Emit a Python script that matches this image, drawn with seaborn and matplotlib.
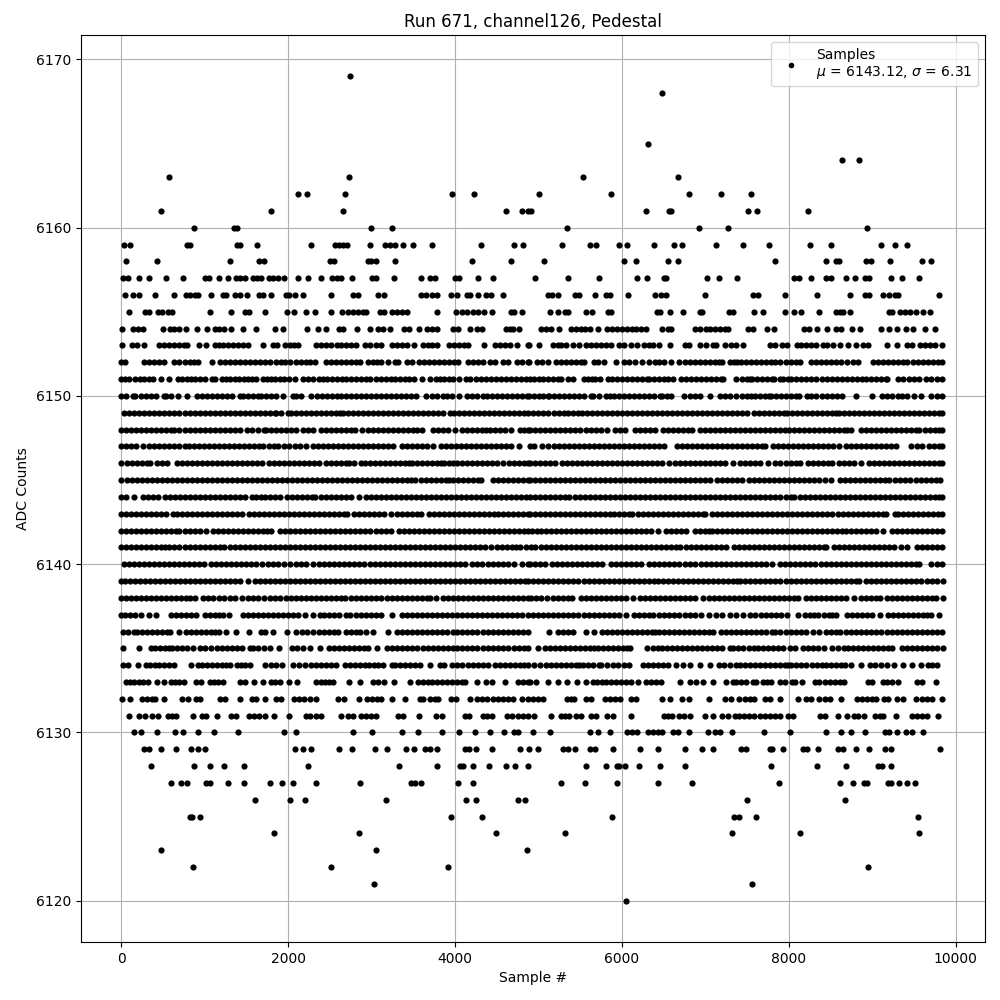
import matplotlib
matplotlib.use("Agg")
import matplotlib.pyplot as plt
from matplotlib.lines import Line2D
import pandas as pd
import seaborn as sns

# sample numbers, one list per ADC level
adc_6120 = [6048]
adc_6121 = [3032, 7560]
adc_6122 = [860, 2516, 3920, 8952]
adc_6123 = [476, 3056, 4868]
adc_6124 = [1832, 2852, 4496, 5320, 7320, 8136, 9564]
adc_6125 = [820, 850, 948, 3956, 4328, 5880, 7340, 7404, 7608, 9552]
adc_6126 = [1604, 2024, 2204, 3176, 4136, 4248, 4760, 4844, 7500, 8676]
adc_6127 = [596, 716, 788, 1020, 1064, 1280, 1472, 1784, 1928, 2060, 2336, 2864, 3476, 3524, 3596, 4040, 4220,
            5268, 5556, 5940, 6432, 6840, 7884, 8616, 8772, 8904, 8932, 9192, 9228, 9324, 9420, 9516]
adc_6128 = [356, 872, 1064, 1232, 1472, 2240, 3332, 3788, 4060, 4100, 4220, 4412, 4616, 4724, 4880, 5568, 5808,
            5940, 5964, 6040, 6204, 6456, 6756, 7788, 8340, 8688, 9072, 9120, 9228]
adc_6129 = [272, 332, 476, 656, 836, 920, 1004, 2084, 2176, 2276, 2612, 2768, 3044, 3188, 3416, 3512, 3644, 3700,
            3788, 4120, 4172, 4256, 4448, 4784, 4892, 4992, 5292, 5352, 5436, 5616, 5676, 5892, 6216, 6432, 6756,
            6960, 7092, 7428, 7484, 7770, 7800, 7932, 8164, 8212, 8352, 8592, 8652, 8808, 8964, 9156, 9228, 9816]
adc_6130 = [152, 236, 428, 644, 740, 920, 1112, 1400, 1952, 2096, 2780, 3008, 3368, 3560, 3848, 4052, 4244, 4420,
            4592, 4712, 4760, 4940, 5136, 5616, 5712, 5856, 6060, 6116, 6180, 6312, 6372, 6432, 6484, 6612, 6672,
            6804, 7032, 7116, 7180, 7320, 7704, 8016, 8448, 8628, 8748, 8916, 9156, 9204, 9292, 9408, 9480, 9612]
adc_6131 = [92, 212, 292, 368, 448, 560, 608, 660, 860, 964, 1020, 1148, 1320, 1380, 1532, 1588, 1652, 1724, 1832,
            2012, 2212, 2268, 2332, 2400, 2636, 2720, 2780, 2880, 2940, 3000, 3052, 3320, 3380, 3572, 3768, 3840,
            4120, 4172, 4340, 4388, 4448, 4628, 4680, 4760, 4820, 4880, 4952, 5156, 5268, 5324, 5372, 5452, 5512,
            5628, 5684, 5820, 5892, 6108, 6504, 6552, 6600, 6680, 6744, 6816, 6996, 7092, 7204, 7272, 7352, 7404,
            7460, 7524, 7580, 7652, 7712, 7772, 7832, 7892, 7992, 8052, 8372, 8432, 8592, 8700, 8780, 8832, 8900,
            9032, 9092, 9132, 9284, 9472, 9532, 9592, 9660, 9792]
adc_6132 = [8, 108, 248, 308, 368, 412, 512, 728, 800, 892, 948, 1180, 1240, 1420, 1572, 1620, 1728, 1860, 1920,
            2068, 2132, 2188, 2268, 2340, 2600, 2668, 2852, 2952, 3012, 3068, 3120, 3240, 3404, 3580, 3620, 3700,
            3760, 3800, 3948, 4012, 4180, 4260, 4320, 4380, 4460, 4520, 4580, 4640, 4692, 4800, 4872, 4932, 4992,
            5052, 5340, 5392, 5432, 5572, 5632, 5796, 5852, 5912, 5972, 6112, 6172, 6484, 6580, 6724, 6804, 7044,
            7232, 7312, 7404, 7472, 7532, 7580, 7712, 7772, 7900, 8104, 8204, 8260, 8364, 8432, 8492, 8628, 8812,
            8872, 8932, 8992, 9040, 9140, 9192, 9292, 9372, 9520, 9592, 9652, 9712, 9840]
adc_6133 = [60, 110, 160, 210, 260, 320, 428, 510, 600, 650, 700, 750, 900, 960, 1060, 1110, 1160, 1220, 1420, 1480,
            1592, 1700, 1800, 1840, 1904, 2012, 2108, 2330, 2390, 2440, 2490, 2540, 2732, 2868, 3020, 3080, 3150,
            3268, 3460, 3560, 3620, 3680, 3730, 3790, 3850, 3900, 3960, 4020, 4080, 4120, 4260, 4368, 4448, 4600,
            4760, 4820, 4880, 4900, 4970, 5112, 5232, 5340, 5460, 5564, 5650, 5700, 5760, 5810, 5870, 5930, 5990,
            6050, 6108, 6192, 6290, 6350, 6410, 6468, 6696, 6820, 6892, 6972, 7092, 7250, 7330, 7370, 7430, 7490,
            7570, 7612, 7692, 7740, 7792, 7892, 7952, 8032, 8072, 8160, 8312, 8360, 8432, 8490, 8550, 8610, 8660,
            8952, 8992, 9132, 9180, 9232, 9312, 9532, 9592, 9764]
adc_6134 = [20, 80, 208, 300, 350, 410, 460, 520, 580, 640, 840, 920, 970, 1030, 1090, 1150, 1210, 1260, 1300, 1388,
            1440, 1490, 1540, 1728, 1800, 1860, 1930, 2060, 2130, 2200, 2270, 2340, 2400, 2460, 2520, 2580, 2680,
            2740, 2800, 2860, 2920, 2970, 3030, 3080, 3140, 3240, 3280, 3340, 3400, 3460, 3520, 3580, 3700, 3820,
            3872, 3960, 4020, 4080, 4160, 4220, 4280, 4340, 4400, 4480, 4540, 4600, 4660, 4720, 4780, 4830, 4880,
            4950, 5020, 5090, 5150, 5210, 5270, 5330, 5390, 5450, 5490, 5530, 5590, 5650, 5720, 5750, 5820, 5890,
            5950, 6020, 6090, 6250, 6310, 6370, 6430, 6490, 6550, 6650, 6730, 6810, 6932, 7056, 7160, 7220, 7290,
            7370, 7410, 7470, 7530, 7590, 7650, 7710, 7770, 7830, 7890, 7950, 7990, 8030, 8090, 8150, 8210, 8280,
            8340, 8400, 8450, 8510, 8570, 8620, 8670, 8748, 8870, 8970, 9030, 9100, 9180, 9264, 9372, 9472, 9580,
            9670, 9720, 9770]
adc_6135 = [20, 212, 360, 410, 470, 530, 580, 612, 670, 730, 788, 860, 940, 1010, 1080, 1150, 1210, 1270, 1330, 1390,
            1450, 1540, 1580, 1640, 1710, 1780, 1892, 2050, 2110, 2180, 2260, 2384, 2490, 2550, 2610, 2670, 2730,
            2790, 2850, 2910, 2960, 3068, 3190, 3250, 3310, 3370, 3430, 3490, 3550, 3620, 3680, 3740, 3800, 3860,
            3920, 3980, 4020, 4080, 4140, 4200, 4270, 4340, 4400, 4460, 4520, 4580, 4640, 4710, 4770, 4830, 4880,
            4992, 5080, 5140, 5200, 5260, 5320, 5380, 5440, 5500, 5560, 5620, 5670, 5710, 5770, 5830, 5890, 5950,
            6010, 6060, 6100, 6300, 6370, 6430, 6480, 6540, 6600, 6660, 6720, 6780, 6840, 6900, 6960, 7020, 7080,
            7140, 7200, 7290, 7330, 7390, 7450, 7520, 7580, 7630, 7690, 7750, 7810, 7870, 7930, 8010, 8076, 8170,
            8230, 8290, 8350, 8420, 8520, 8590, 8660, 8710, 8770, 8830, 8890, 8950, 9010, 9070, 9130, 9190, 9240,
            9350, 9410, 9470, 9530, 9590, 9650, 9710, 9770, 9850]
adc_6136 = [20, 80, 150, 190, 250, 310, 370, 430, 490, 550, 590, 700, 780, 840, 900, 960, 1020, 1080, 1130, 1170,
            1252, 1372, 1528, 1680, 1720, 1820, 1990, 2100, 2170, 2230, 2300, 2370, 2430, 2490, 2550, 2600, 2700,
            2760, 2810, 2860, 2940, 3020, 3200, 3300, 3360, 3420, 3480, 3540, 3600, 3660, 3720, 3780, 3840, 3900,
            3980, 4020, 4080, 4140, 4200, 4270, 4340, 4400, 4460, 4520, 4580, 4640, 4700, 4760, 4820, 4880, 5130,
            5230, 5300, 5360, 5420, 5570, 5670, 5760, 5820, 5880, 5940, 6000, 6060, 6120, 6180, 6240, 6300, 6360,
            6400, 6440, 6500, 6560, 6620, 6680, 6740, 6800, 6860, 6920, 6980, 7040, 7090, 7190, 7250, 7310, 7370,
            7430, 7490, 7550, 7610, 7670, 7730, 7800, 7840, 7900, 7960, 8020, 8080, 8140, 8200, 8290, 8364, 8440,
            8500, 8560, 8610, 8680, 8740, 8800, 8860, 8920, 8980, 9040, 9100, 9170, 9240, 9300, 9360, 9420, 9480,
            9540, 9600, 9660, 9720, 9780, 9840]
adc_6137 = [0, 50, 110, 170, 240, 340, 420, 600, 660, 720, 780, 840, 900, 1000, 1060, 1120, 1170, 1220, 1290, 1460,
            1520, 1580, 1640, 1700, 1760, 1820, 1880, 1940, 2000, 2060, 2120, 2200, 2300, 2380, 2430, 2490, 2550,
            2610, 2700, 2744, 2820, 2880, 2940, 3000, 3060, 3120, 3240, 3360, 3420, 3480, 3540, 3600, 3660, 3720,
            3780, 3840, 3900, 3960, 4020, 4080, 4140, 4200, 4260, 4320, 4380, 4440, 4500, 4560, 4620, 4680, 4740,
            4800, 4880, 4940, 5000, 5060, 5120, 5180, 5240, 5300, 5360, 5420, 5480, 5540, 5600, 5660, 5720, 5780,
            5840, 5900, 5960, 6050, 6150, 6210, 6270, 6320, 6370, 6450, 6510, 6570, 6630, 6690, 6750, 6810, 6870,
            6950, 7040, 7130, 7200, 7300, 7370, 7450, 7530, 7600, 7670, 7730, 7790, 7850, 7910, 7980, 8112, 8190,
            8250, 8300, 8350, 8420, 8480, 8520, 8570, 8700, 8760, 8820, 8880, 8940, 9000, 9092, 9190, 9250, 9310,
            9370, 9430, 9490, 9550, 9610, 9660, 9700, 9800]
adc_6138 = [0, 60, 120, 180, 240, 300, 360, 420, 480, 540, 600, 660, 720, 780, 830, 880, 980, 1040, 1100, 1170, 1230,
            1300, 1370, 1450, 1520, 1580, 1640, 1710, 1780, 1850, 1910, 1970, 2030, 2090, 2150, 2210, 2270, 2330,
            2390, 2450, 2510, 2570, 2630, 2680, 2760, 2820, 2880, 2940, 3000, 3060, 3120, 3180, 3240, 3300, 3360,
            3420, 3480, 3540, 3600, 3660, 3700, 3770, 3860, 3920, 3980, 4040, 4100, 4160, 4220, 4280, 4340, 4400,
            4460, 4520, 4580, 4640, 4700, 4760, 4820, 4870, 4910, 4970, 5030, 5100, 5170, 5230, 5290, 5350, 5400,
            5510, 5570, 5630, 5690, 5750, 5810, 5870, 5930, 5990, 6050, 6130, 6220, 6280, 6340, 6400, 6460, 6520,
            6580, 6640, 6700, 6760, 6820, 6880, 6970, 7040, 7100, 7160, 7220, 7280, 7340, 7400, 7460, 7520, 7580,
            7640, 7700, 7760, 7820, 7880, 7940, 8000, 8060, 8110, 8210, 8270, 8330, 8390, 8450, 8510, 8570, 8630,
            8680, 8784, 8870, 8930, 8990, 9040, 9090, 9180, 9240, 9300, 9360, 9420, 9480, 9540, 9600, 9660, 9710,
            9760, 9844]
adc_6139 = [0, 50, 110, 170, 230, 290, 350, 410, 470, 530, 590, 650, 710, 770, 830, 890, 950, 1010, 1070, 1130, 1190,
            1250, 1310, 1370, 1430, 1520, 1600, 1660, 1720, 1780, 1840, 1900, 1960, 2020, 2080, 2140, 2200, 2260,
            2320, 2380, 2440, 2500, 2560, 2620, 2680, 2740, 2800, 2860, 2920, 2980, 3040, 3100, 3160, 3220, 3280,
            3340, 3400, 3460, 3520, 3580, 3640, 3700, 3760, 3820, 3880, 3940, 4000, 4060, 4120, 4180, 4240, 4300,
            4360, 4420, 4480, 4540, 4600, 4660, 4720, 4780, 4840, 4880, 4940, 5000, 5060, 5120, 5180, 5240, 5300,
            5360, 5420, 5480, 5540, 5600, 5660, 5720, 5780, 5840, 5900, 5960, 6020, 6080, 6140, 6200, 6260, 6320,
            6380, 6430, 6490, 6550, 6610, 6670, 6730, 6790, 6850, 6910, 6970, 7030, 7090, 7150, 7210, 7270, 7330,
            7380, 7420, 7480, 7540, 7600, 7660, 7720, 7780, 7840, 7900, 7960, 8020, 8080, 8140, 8200, 8260, 8320,
            8380, 8440, 8500, 8560, 8620, 8680, 8740, 8800, 8840, 8920, 8980, 9040, 9100, 9160, 9220, 9280, 9340,
            9400, 9460, 9520, 9580, 9650, 9720, 9780, 9850]
adc_6140 = [30, 90, 150, 210, 270, 330, 390, 450, 510, 570, 630, 690, 750, 810, 870, 930, 990, 1080, 1140, 1200, 1260,
            1320, 1380, 1440, 1500, 1560, 1620, 1690, 1760, 1820, 1880, 1950, 2020, 2090, 2150, 2220, 2300, 2370,
            2430, 2490, 2550, 2610, 2670, 2730, 2790, 2850, 2910, 2980, 3040, 3100, 3160, 3220, 3280, 3340, 3400,
            3460, 3520, 3580, 3640, 3700, 3760, 3820, 3880, 3940, 4000, 4060, 4120, 4200, 4270, 4330, 4390, 4450,
            4510, 4570, 4630, 4710, 4800, 4880, 4900, 4960, 5020, 5080, 5160, 5220, 5280, 5340, 5400, 5460, 5520,
            5580, 5640, 5700, 5760, 5870, 5930, 5990, 6050, 6110, 6170, 6230, 6320, 6390, 6450, 6510, 6570, 6630,
            6690, 6750, 6810, 6870, 6950, 7010, 7070, 7130, 7190, 7250, 7310, 7370, 7430, 7490, 7550, 7610, 7670,
            7730, 7800, 7890, 7950, 8010, 8070, 8130, 8190, 8250, 8310, 8380, 8440, 8500, 8560, 8620, 8680, 8740,
            8800, 8860, 8920, 8980, 9040, 9100, 9160, 9220, 9280, 9340, 9400, 9460, 9520, 9560, 9700, 9770, 9830]
adc_6141 = [0, 60, 120, 180, 240, 300, 360, 420, 480, 530, 580, 640, 700, 760, 830, 890, 950, 1010, 1070, 1130, 1190,
            1230, 1300, 1360, 1420, 1480, 1540, 1600, 1660, 1720, 1780, 1840, 1900, 1960, 2020, 2080, 2140, 2200,
            2260, 2320, 2380, 2440, 2500, 2560, 2620, 2680, 2740, 2800, 2860, 2920, 2980, 3040, 3100, 3160, 3220,
            3280, 3340, 3400, 3460, 3520, 3580, 3640, 3700, 3760, 3820, 3880, 3940, 4000, 4060, 4120, 4180, 4240,
            4300, 4360, 4430, 4500, 4560, 4620, 4680, 4730, 4780, 4850, 4910, 4960, 5030, 5090, 5150, 5210, 5270,
            5330, 5390, 5450, 5510, 5570, 5630, 5690, 5750, 5810, 5870, 5930, 5990, 6050, 6110, 6170, 6230, 6290,
            6350, 6410, 6470, 6530, 6590, 6650, 6700, 6770, 6830, 6890, 6950, 7010, 7070, 7130, 7190, 7250, 7340,
            7400, 7460, 7520, 7580, 7640, 7700, 7760, 7820, 7880, 7940, 8000, 8060, 8120, 8180, 8240, 8300, 8360,
            8420, 8450, 8540, 8600, 8660, 8720, 8780, 8840, 8900, 8960, 9020, 9080, 9140, 9200, 9260, 9340, 9420,
            9530, 9590, 9650, 9710, 9770, 9840]
adc_6142 = [0, 60, 120, 180, 240, 300, 360, 420, 480, 540, 600, 660, 700, 760, 820, 880, 950, 1020, 1100, 1160, 1220,
            1280, 1340, 1400, 1460, 1520, 1580, 1640, 1700, 1750, 1800, 1900, 1960, 2020, 2080, 2140, 2200, 2260,
            2320, 2380, 2440, 2500, 2560, 2620, 2680, 2740, 2800, 2860, 2920, 2980, 3050, 3110, 3170, 3230, 3330,
            3390, 3450, 3510, 3570, 3630, 3690, 3750, 3810, 3870, 3930, 3990, 4050, 4110, 4170, 4230, 4290, 4350,
            4410, 4470, 4530, 4590, 4650, 4710, 4770, 4830, 4880, 4920, 4980, 5030, 5090, 5150, 5210, 5270, 5330,
            5390, 5450, 5510, 5570, 5630, 5690, 5750, 5810, 5870, 5930, 5990, 6050, 6110, 6170, 6230, 6290, 6350,
            6430, 6530, 6590, 6650, 6710, 6770, 6870, 6930, 6990, 7040, 7080, 7140, 7200, 7260, 7320, 7380, 7440,
            7500, 7560, 7620, 7680, 7740, 7800, 7860, 7920, 7980, 8040, 8100, 8160, 8220, 8280, 8340, 8400, 8460,
            8520, 8580, 8640, 8680, 8750, 8810, 8870, 8930, 8990, 9050, 9130, 9230, 9290, 9350, 9410, 9470, 9530,
            9590, 9650, 9710, 9770, 9840]
adc_6143 = [0, 60, 120, 180, 240, 300, 360, 420, 480, 540, 620, 670, 730, 790, 850, 910, 970, 1030, 1090, 1150, 1210,
            1270, 1330, 1390, 1450, 1530, 1590, 1650, 1710, 1770, 1830, 1890, 1950, 2010, 2070, 2130, 2190, 2250,
            2310, 2370, 2430, 2490, 2550, 2610, 2670, 2710, 2790, 2850, 2910, 2970, 3030, 3090, 3150, 3230, 3300,
            3360, 3420, 3480, 3540, 3590, 3690, 3750, 3810, 3870, 3930, 3990, 4050, 4110, 4170, 4230, 4290, 4350,
            4410, 4470, 4510, 4580, 4640, 4700, 4760, 4820, 4880, 4900, 4960, 5020, 5080, 5140, 5200, 5260, 5320,
            5380, 5440, 5500, 5560, 5620, 5680, 5740, 5800, 5860, 5900, 5970, 6030, 6090, 6120, 6190, 6250, 6310,
            6370, 6430, 6490, 6550, 6610, 6670, 6730, 6790, 6850, 6910, 6970, 7000, 7080, 7140, 7200, 7260, 7320,
            7380, 7440, 7500, 7560, 7620, 7680, 7740, 7800, 7860, 7920, 7980, 8040, 8100, 8160, 8220, 8280, 8340,
            8400, 8460, 8520, 8590, 8650, 8710, 8770, 8830, 8890, 8950, 9010, 9070, 9130, 9160, 9270, 9310, 9370,
            9430, 9490, 9550, 9610, 9670, 9730, 9790, 9840]
adc_6144 = [0, 60, 150, 260, 320, 380, 440, 530, 590, 650, 710, 770, 830, 890, 950, 1010, 1070, 1130, 1190, 1250,
            1310, 1370, 1430, 1490, 1570, 1620, 1680, 1730, 1790, 1850, 1900, 1990, 2050, 2110, 2170, 2230, 2290,
            2320, 2400, 2460, 2520, 2580, 2640, 2700, 2760, 2850, 2930, 2990, 3050, 3110, 3170, 3230, 3290, 3350,
            3410, 3470, 3530, 3590, 3650, 3710, 3770, 3830, 3890, 3950, 4010, 4070, 4130, 4190, 4250, 4310, 4370,
            4430, 4490, 4550, 4610, 4670, 4730, 4790, 4850, 4900, 4960, 5020, 5080, 5140, 5200, 5260, 5320, 5370,
            5440, 5500, 5560, 5620, 5680, 5740, 5800, 5860, 5920, 5980, 6040, 6100, 6160, 6220, 6280, 6340, 6400,
            6460, 6520, 6580, 6640, 6700, 6760, 6820, 6880, 6940, 7000, 7060, 7120, 7180, 7240, 7300, 7360, 7420,
            7480, 7540, 7600, 7660, 7720, 7780, 7840, 7900, 7960, 8020, 8060, 8130, 8190, 8250, 8310, 8370, 8430,
            8490, 8550, 8610, 8670, 8730, 8790, 8850, 8910, 8970, 9030, 9090, 9150, 9210, 9270, 9330, 9390, 9450,
            9510, 9570, 9630, 9690, 9750, 9800, 9840]
adc_6145 = [0, 70, 130, 190, 250, 310, 370, 430, 490, 550, 610, 670, 730, 790, 850, 910, 970, 1030, 1090, 1150, 1210,
            1270, 1330, 1390, 1450, 1510, 1570, 1630, 1690, 1750, 1810, 1870, 1930, 1990, 2050, 2110, 2170, 2230,
            2290, 2350, 2410, 2470, 2530, 2590, 2650, 2710, 2770, 2830, 2890, 2950, 3010, 3070, 3130, 3190, 3250,
            3310, 3370, 3420, 3470, 3520, 3590, 3650, 3710, 3770, 3830, 3890, 3930, 3980, 4040, 4100, 4160, 4220,
            4280, 4310, 4450, 4510, 4570, 4630, 4690, 4750, 4810, 4880, 4900, 4960, 5020, 5080, 5140, 5200, 5260,
            5320, 5380, 5440, 5500, 5560, 5620, 5680, 5740, 5800, 5860, 5920, 5980, 6040, 6100, 6160, 6220, 6280,
            6340, 6400, 6460, 6520, 6580, 6640, 6700, 6760, 6820, 6880, 6940, 7000, 7060, 7140, 7200, 7260, 7320,
            7380, 7440, 7520, 7580, 7640, 7700, 7760, 7820, 7880, 7940, 8000, 8060, 8120, 8180, 8240, 8300, 8360,
            8430, 8510, 8610, 8670, 8730, 8790, 8850, 8910, 8970, 9030, 9090, 9150, 9200, 9270, 9330, 9390, 9450,
            9520, 9580, 9640, 9700, 9760, 9810]
adc_6146 = [0, 70, 130, 190, 250, 310, 350, 430, 490, 550, 670, 730, 790, 850, 910, 970, 1030, 1090, 1150, 1210, 1270,
            1330, 1390, 1450, 1510, 1570, 1630, 1690, 1770, 1830, 1890, 1950, 2010, 2070, 2130, 2190, 2250, 2310,
            2370, 2450, 2510, 2570, 2630, 2690, 2730, 2790, 2870, 2920, 2980, 3040, 3100, 3160, 3220, 3280, 3340,
            3400, 3450, 3490, 3550, 3610, 3670, 3730, 3780, 3830, 3870, 3930, 3980, 4030, 4090, 4150, 4210, 4260,
            4320, 4380, 4440, 4500, 4580, 4650, 4710, 4770, 4830, 4880, 4900, 4960, 5020, 5080, 5140, 5200, 5280,
            5340, 5400, 5460, 5520, 5580, 5640, 5700, 5760, 5820, 5880, 5940, 6000, 6060, 6120, 6180, 6240, 6300,
            6360, 6420, 6480, 6570, 6640, 6700, 6760, 6820, 6880, 6940, 7000, 7060, 7120, 7180, 7240, 7330, 7420,
            7480, 7540, 7600, 7660, 7750, 7840, 7900, 7960, 8020, 8080, 8130, 8230, 8290, 8350, 8410, 8470, 8520,
            8600, 8660, 8720, 8780, 8860, 8960, 9020, 9080, 9140, 9200, 9260, 9320, 9380, 9440, 9500, 9560, 9620,
            9680, 9740, 9800, 9840]
adc_6147 = [0, 60, 120, 180, 260, 340, 400, 460, 520, 580, 640, 700, 760, 810, 870, 930, 990, 1050, 1110, 1170, 1230,
            1290, 1350, 1410, 1470, 1530, 1590, 1650, 1700, 1770, 1830, 1880, 1950, 2010, 2080, 2140, 2220, 2300,
            2360, 2420, 2480, 2540, 2600, 2660, 2720, 2780, 2840, 2900, 2960, 3020, 3080, 3140, 3200, 3260, 3360,
            3430, 3490, 3550, 3610, 3670, 3740, 3830, 3890, 3950, 4010, 4070, 4130, 4190, 4250, 4310, 4370, 4430,
            4490, 4550, 4610, 4670, 4770, 4900, 4950, 5040, 5110, 5190, 5250, 5310, 5370, 5430, 5490, 5550, 5610,
            5670, 5730, 5790, 5850, 5910, 5970, 6030, 6090, 6150, 6210, 6270, 6330, 6390, 6450, 6500, 6660, 6720,
            6780, 6840, 6900, 6960, 7020, 7080, 7140, 7200, 7260, 7320, 7380, 7440, 7500, 7560, 7620, 7680, 7720,
            7810, 7870, 7930, 7990, 8050, 8110, 8170, 8230, 8290, 8350, 8410, 8470, 8530, 8600, 8680, 8740, 8800,
            8860, 8920, 8980, 9040, 9100, 9160, 9220, 9280, 9460, 9530, 9600, 9680, 9740, 9800, 9840]
adc_6148 = [0, 60, 120, 180, 240, 300, 360, 420, 480, 540, 600, 640, 700, 760, 820, 880, 940, 1000, 1060, 1120, 1180,
            1240, 1300, 1370, 1430, 1510, 1570, 1640, 1710, 1740, 1800, 1860, 1920, 1980, 2040, 2100, 2180, 2240,
            2300, 2390, 2450, 2510, 2570, 2630, 2690, 2750, 2800, 2888, 2960, 3020, 3080, 3140, 3200, 3260, 3320,
            3380, 3440, 3500, 3550, 3600, 3740, 3800, 3860, 3920, 4000, 4080, 4140, 4200, 4260, 4320, 4370, 4420,
            4480, 4540, 4600, 4668, 4780, 4830, 4880, 4900, 4960, 5020, 5080, 5140, 5200, 5260, 5320, 5380, 5440,
            5500, 5570, 5630, 5690, 5750, 5820, 5920, 5980, 6040, 6160, 6220, 6280, 6340, 6400, 6490, 6550, 6610,
            6670, 6730, 6790, 6840, 6930, 6990, 7050, 7110, 7170, 7230, 7290, 7350, 7410, 7470, 7530, 7590, 7650,
            7710, 7770, 7830, 7890, 7950, 8000, 8060, 8120, 8180, 8240, 8300, 8360, 8420, 8480, 8540, 8600, 8660,
            8700, 8750, 8860, 8920, 8980, 9040, 9100, 9160, 9220, 9280, 9340, 9400, 9460, 9520, 9560, 9630, 9690,
            9750, 9800, 9840]
adc_6149 = [40, 100, 160, 220, 280, 340, 400, 460, 520, 580, 640, 700, 760, 820, 880, 940, 1000, 1060, 1120, 1180,
            1240, 1300, 1360, 1420, 1480, 1540, 1600, 1660, 1720, 1780, 1840, 1860, 1920, 2000, 2030, 2090, 2150,
            2210, 2270, 2330, 2390, 2450, 2510, 2570, 2620, 2660, 2720, 2780, 2840, 2900, 2960, 3020, 3080, 3140,
            3200, 3260, 3320, 3380, 3440, 3500, 3560, 3620, 3680, 3740, 3800, 3860, 3940, 3990, 4050, 4110, 4170,
            4230, 4290, 4350, 4410, 4470, 4530, 4590, 4650, 4710, 4770, 4830, 4880, 4940, 5000, 5060, 5120, 5190,
            5244, 5304, 5360, 5420, 5480, 5520, 5580, 5640, 5700, 5760, 5820, 5880, 5940, 6000, 6060, 6120, 6180,
            6240, 6300, 6360, 6420, 6480, 6540, 6600, 6660, 6720, 6780, 6840, 6900, 6960, 7020, 7080, 7140, 7200,
            7260, 7320, 7380, 7440, 7500, 7580, 7640, 7700, 7760, 7820, 7880, 7940, 7980, 8040, 8100, 8160, 8220,
            8280, 8340, 8400, 8460, 8520, 8570, 8600, 8660, 8720, 8780, 8840, 8900, 8960, 9020, 9080, 9140, 9200,
            9260, 9320, 9380, 9440, 9500, 9560, 9620, 9680, 9740, 9800, 9840]
adc_6150 = [0, 60, 140, 172, 240, 300, 360, 420, 520, 540, 600, 688, 788, 908, 970, 1030, 1090, 1150, 1210, 1270,
            1330, 1420, 1460, 1520, 1580, 1640, 1680, 1740, 1800, 1860, 1940, 2060, 2100, 2152, 2272, 2348, 2410,
            2470, 2530, 2588, 2632, 2690, 2750, 2810, 2870, 2930, 2990, 3050, 3110, 3170, 3230, 3290, 3350, 3410,
            3470, 3528, 3652, 3720, 3790, 3860, 3908, 3970, 4052, 4140, 4200, 4270, 4340, 4380, 4440, 4500, 4560,
            4620, 4680, 4740, 4800, 4860, 4892, 4950, 5010, 5060, 5112, 5132, 5190, 5250, 5310, 5370, 5430, 5490,
            5550, 5632, 5652, 5720, 5804, 5852, 5910, 5970, 6030, 6090, 6150, 6210, 6270, 6330, 6390, 6452, 6484,
            6540, 6592, 6744, 6810, 6880, 6940, 7056, 7172, 7240, 7300, 7372, 7440, 7500, 7552, 7592, 7650, 7710,
            7760, 7792, 7850, 7910, 7970, 8030, 8090, 8124, 8220, 8270, 8320, 8400, 8460, 8520, 8572, 8640, 8804,
            9000, 9116, 9180, 9240, 9312, 9356, 9420, 9500, 9580, 9704, 9770, 9840]
adc_6151 = [0, 50, 100, 170, 230, 280, 330, 380, 476, 572, 680, 730, 790, 840, 890, 950, 1000, 1090, 1120, 1210, 1260,
            1310, 1360, 1410, 1470, 1520, 1570, 1620, 1700, 1750, 1800, 1850, 1900, 1950, 2010, 2080, 2180, 2240,
            2300, 2370, 2420, 2470, 2530, 2590, 2650, 2700, 2760, 2810, 2870, 2930, 2980, 3060, 3120, 3170, 3230,
            3280, 3340, 3400, 3450, 3512, 3608, 3704, 3770, 3820, 3870, 3930, 3980, 4052, 4130, 4180, 4250, 4310,
            4370, 4430, 4490, 4550, 4610, 4670, 4730, 4790, 4850, 4900, 4950, 5010, 5060, 5120, 5180, 5240, 5270,
            5352, 5410, 5540, 5590, 5640, 5680, 5740, 5830, 5880, 5940, 6000, 6060, 6120, 6180, 6240, 6300, 6320,
            6384, 6440, 6500, 6550, 6610, 6710, 6770, 6830, 6890, 6950, 7010, 7070, 7130, 7190, 7210, 7364, 7440,
            7500, 7540, 7560, 7620, 7680, 7740, 7800, 7820, 7900, 7930, 7990, 8030, 8090, 8150, 8210, 8270, 8330,
            8400, 8460, 8520, 8580, 8640, 8700, 8760, 8820, 8880, 8920, 8980, 9040, 9100, 9160, 9180, 9310, 9370,
            9440, 9500, 9560, 9640, 9700, 9780, 9840]
adc_6152 = [0, 50, 270, 330, 390, 460, 520, 640, 700, 760, 820, 870, 920, 1088, 1190, 1250, 1310, 1360, 1420, 1480,
            1540, 1600, 1660, 1720, 1790, 1860, 1912, 1960, 2020, 2090, 2160, 2210, 2260, 2320, 2450, 2510, 2570,
            2630, 2690, 2750, 2820, 2868, 2960, 3020, 3070, 3120, 3200, 3280, 3312, 3420, 3488, 3570, 3630, 3690,
            3750, 3810, 3870, 3930, 3990, 4040, 4160, 4220, 4272, 4332, 4420, 4480, 4580, 4630, 4740, 4800, 4880,
            4892, 4980, 5040, 5110, 5210, 5270, 5330, 5390, 5450, 5510, 5550, 5670, 5710, 5780, 5930, 6020, 6084,
            6160, 6240, 6320, 6392, 6450, 6500, 6588, 6690, 6750, 6810, 6870, 6930, 6990, 7050, 7110, 7160, 7200,
            7290, 7340, 7380, 7430, 7490, 7550, 7610, 7670, 7730, 7790, 7830, 7900, 7960, 8020, 8080, 8130, 8270,
            8330, 8390, 8450, 8510, 8570, 8630, 8700, 8770, 8832, 9010, 9070, 9130, 9190, 9250, 9310, 9370, 9410,
            9490, 9550, 9610, 9670, 9730, 9790, 9830]
adc_6153 = [8, 128, 188, 272, 460, 520, 580, 640, 700, 750, 790, 932, 1020, 1120, 1170, 1220, 1280, 1340, 1400, 1460,
            1520, 1700, 1820, 1872, 1960, 2020, 2070, 2120, 2340, 2400, 2460, 2520, 2590, 2640, 2700, 2760, 2820,
            2920, 2980, 3060, 3120, 3240, 3300, 3360, 3420, 3504, 3620, 3680, 3720, 3788, 3932, 3990, 4050, 4110,
            4160, 4352, 4480, 4540, 4600, 4660, 4748, 4880, 4892, 5004, 5180, 5230, 5270, 5330, 5410, 5492, 5570,
            5630, 5690, 5750, 5810, 5870, 5964, 6030, 6110, 6180, 6270, 6320, 6370, 6444, 6576, 6750, 6804, 6940,
            7012, 7092, 7132, 7232, 7312, 7372, 7452, 7772, 7832, 7920, 7980, 8092, 8150, 8210, 8270, 8330, 8412,
            8452, 8532, 8616, 8712, 8808, 8892, 8952, 9180, 9300, 9412, 9472, 9572, 9630, 9690, 9750, 9832]
adc_6154 = [8, 140, 200, 260, 500, 592, 640, 700, 780, 908, 1028, 1120, 1170, 1232, 1320, 1460, 1616, 1844, 1940,
            2228, 2356, 2460, 2608, 2660, 2828, 2984, 3080, 3140, 3220, 3392, 3452, 3564, 3660, 3720, 3780, 3972,
            4040, 4184, 4268, 4328, 4612, 4660, 4700, 4772, 5032, 5090, 5152, 5244, 5392, 5450, 5510, 5552, 5616,
            5712, 5820, 5880, 5940, 6000, 6060, 6120, 6170, 6224, 6284, 6480, 6552, 6592, 6872, 6932, 7004, 7060,
            7120, 7180, 7230, 7272, 7512, 7572, 7740, 7824, 8184, 8244, 8340, 8452, 8564, 8620, 8760, 8856, 9100,
            9204, 9292, 9400, 9492, 9636, 9756]
adc_6155 = [92, 284, 340, 440, 488, 560, 612, 1060, 1316, 1484, 1528, 1724, 1988, 2072, 2212, 2324, 2516, 2648, 2720,
            2780, 2840, 2900, 2936, 3100, 3152, 3240, 3300, 3368, 3428, 3788, 4016, 4080, 4140, 4212, 4280, 4352,
            4448, 4672, 4712, 4808, 5136, 5232, 5320, 5360, 5568, 5640, 5832, 5872, 6424, 6460, 6576, 6732, 6940,
            6964, 7284, 7332, 7584, 7692, 7956, 8064, 8148, 8364, 8564, 8612, 8652, 8736, 9204, 9240, 9336, 9396,
            9452, 9524, 9604, 9688]
adc_6156 = [44, 140, 212, 404, 632, 780, 828, 880, 920, 1076, 1220, 1260, 1360, 1420, 1508, 1652, 1700, 1796, 1980,
            2012, 2084, 2180, 2516, 2780, 2840, 3080, 3152, 3596, 3652, 3728, 3788, 3956, 4028, 4140, 4180, 4272,
            4368, 4436, 4580, 5112, 5160, 5232, 5436, 5492, 5676, 5812, 5852, 6072, 6396, 6472, 6524, 6996, 7572,
            7632, 7956, 8340, 8736, 8916, 8964, 9132, 9204, 9276, 9308, 9804]
adc_6157 = [28, 80, 212, 340, 536, 740, 1008, 1052, 1172, 1280, 1372, 1420, 1484, 1580, 1628, 1680, 1772, 1820, 1880,
            1952, 2120, 2240, 2396, 2528, 2588, 2640, 2768, 3008, 3060, 3272, 3596, 3704, 3764, 4004, 4052, 4280,
            4460, 4956, 5352, 5724, 6180, 6300, 6504, 6532, 7020, 7164, 7380, 8064, 8124, 8268, 8448, 8504, 8684,
            8796, 8916, 8964, 9228, 9360, 9564]
adc_6158 = [60, 428, 1304, 1652, 1712, 2508, 2548, 2960, 3000, 3060, 3284, 4208, 4676, 5064, 6024, 6168, 6552, 6672,
            7836, 8448, 8560, 8596, 8928, 8988, 9216, 9600, 9700]
adc_6159 = [36, 108, 792, 828, 1388, 1420, 1628, 2276, 2564, 2612, 2660, 2708, 2984, 3164, 3220, 3284, 3380, 3500,
            3728, 4316, 4712, 4820, 5280, 5616, 5688, 5964, 6060, 6384, 6624, 6720, 7128, 7452, 7764, 8256, 8508,
            9108, 9276, 9420]
adc_6160 = [872, 1352, 1384, 2996, 3240, 5340, 6924, 7272, 8940]
adc_6161 = [476, 1796, 2660, 4616, 4808, 4880, 4912, 6288, 6564, 6592, 7512, 7620, 8232]
adc_6162 = [2120, 2228, 2684, 3968, 4232, 5004, 5868, 6804, 7188, 7548]
adc_6163 = [572, 2732, 5532, 6672]
adc_6164 = [8640, 8844]
adc_6165 = [6312]
adc_6168 = [6480]
adc_6169 = [2744]

level_lists = {
    6120: adc_6120, 6121: adc_6121, 6122: adc_6122, 6123: adc_6123, 6124: adc_6124, 6125: adc_6125,
    6126: adc_6126, 6127: adc_6127, 6128: adc_6128, 6129: adc_6129, 6130: adc_6130, 6131: adc_6131,
    6132: adc_6132, 6133: adc_6133, 6134: adc_6134, 6135: adc_6135, 6136: adc_6136, 6137: adc_6137,
    6138: adc_6138, 6139: adc_6139, 6140: adc_6140, 6141: adc_6141, 6142: adc_6142, 6143: adc_6143,
    6144: adc_6144, 6145: adc_6145, 6146: adc_6146, 6147: adc_6147, 6148: adc_6148, 6149: adc_6149,
    6150: adc_6150, 6151: adc_6151, 6152: adc_6152, 6153: adc_6153, 6154: adc_6154, 6155: adc_6155,
    6156: adc_6156, 6157: adc_6157, 6158: adc_6158, 6159: adc_6159, 6160: adc_6160, 6161: adc_6161,
    6162: adc_6162, 6163: adc_6163, 6164: adc_6164, 6165: adc_6165, 6168: adc_6168, 6169: adc_6169,
}

rows = []
for level, samples in level_lists.items():
    for sample in samples:
        rows.append((sample, level))
df = pd.DataFrame(rows, columns=["sample", "adc"])

label = "Samples\n$\\mu$ = 6143.12, $\\sigma$ = 6.31"

fig, ax = plt.subplots(figsize=(10, 10), dpi=100)
sns.scatterplot(data=df, x="sample", y="adc", color="black", marker="o", s=20, linewidth=0, zorder=2.5, ax=ax)

ax.set_xlim(-480, 10350)
ax.set_ylim(6117.55, 6171.45)
ax.grid(True)
ax.set_title("Run 671, channel126, Pedestal")
ax.set_xlabel("Sample #")
ax.set_ylabel("ADC Counts")

handle = Line2D([], [], color="black", marker=".", linestyle="none")
ax.legend([handle], [label], loc="upper right")

# axes box
fig.subplots_adjust(left=0.081, right=0.985, top=0.965, bottom=0.058)
fig.savefig("out.png", dpi=100)
